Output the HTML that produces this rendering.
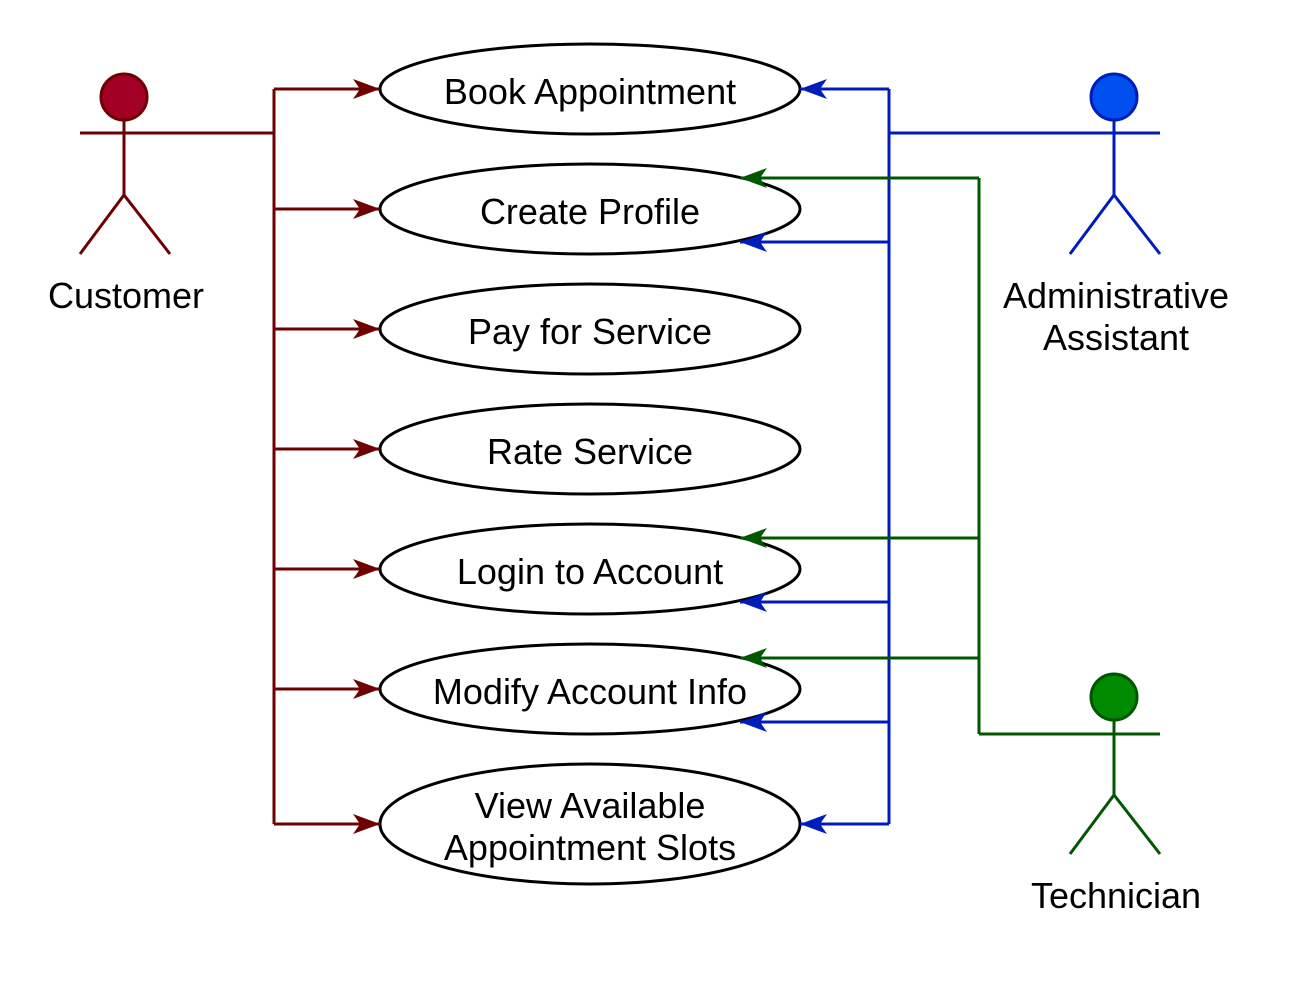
<!DOCTYPE html>
<html><head><style>body{margin:0;background:#fff}svg{display:block}text{font-family:"Liberation Sans",Arial,sans-serif;font-size:36px;text-anchor:middle}</style></head>
<body>
<svg width="1312" height="998" viewBox="0 0 1312 998">
<defs>
<marker id="r" markerWidth="28" markerHeight="22" refX="27" refY="11" orient="auto" markerUnits="userSpaceOnUse"><path d="M27,11 L0,1 L7,11 L0,21 Z" fill="#6f0000"/></marker>
<marker id="b" markerWidth="28" markerHeight="22" refX="27" refY="11" orient="auto" markerUnits="userSpaceOnUse"><path d="M27,11 L0,1 L7,11 L0,21 Z" fill="#001dbc"/></marker>
<marker id="g" markerWidth="28" markerHeight="22" refX="27" refY="11" orient="auto" markerUnits="userSpaceOnUse"><path d="M27,11 L0,1 L7,11 L0,21 Z" fill="#005700"/></marker>
</defs>
<g fill="#fff" stroke="#000" stroke-width="3">
<ellipse cx="590" cy="89" rx="210" ry="45"/>
<ellipse cx="590" cy="209" rx="210" ry="45"/>
<ellipse cx="590" cy="329" rx="210" ry="45"/>
<ellipse cx="590" cy="449" rx="210" ry="45"/>
<ellipse cx="590" cy="569" rx="210" ry="45"/>
<ellipse cx="590" cy="689" rx="210" ry="45"/>
<ellipse cx="590" cy="824" rx="210" ry="60"/>
</g>
<g fill="#000">
<text x="590" y="104">Book Appointment</text>
<text x="590" y="224">Create Profile</text>
<text x="590" y="344">Pay for Service</text>
<text x="590" y="464">Rate Service</text>
<text x="590" y="584">Login to Account</text>
<text x="590" y="704">Modify Account Info</text>
<text x="590" y="818">View Available</text>
<text x="590" y="860">Appointment Slots</text>
<text x="126" y="308">Customer</text>
<text x="1116" y="308">Administrative</text>
<text x="1116" y="350">Assistant</text>
<text x="1116" y="908">Technician</text>
</g>
<g stroke="#6f0000" stroke-width="3" fill="none">
<circle cx="124" cy="97" r="23" fill="#a20025"/>
<path d="M124,120 V195 M80,133 H170 M80,254 L124,195 L170,254"/>
<path d="M170,133 H274 M274,89 V824"/>
<path d="M274,89 H380" marker-end="url(#r)"/>
<path d="M274,209 H380" marker-end="url(#r)"/>
<path d="M274,329 H380" marker-end="url(#r)"/>
<path d="M274,449 H380" marker-end="url(#r)"/>
<path d="M274,569 H380" marker-end="url(#r)"/>
<path d="M274,689 H380" marker-end="url(#r)"/>
<path d="M274,824 H380" marker-end="url(#r)"/>
</g>
<g stroke="#001dbc" stroke-width="3" fill="none">
<circle cx="1114" cy="97" r="23" fill="#0050ef"/>
<path d="M1114,120 V195 M1070,133 H1160 M1070,254 L1114,195 L1160,254"/>
<path d="M1070,133 H889 M889,89 V824"/>
<path d="M889,89 H800" marker-end="url(#b)"/>
<path d="M889,242 H740" marker-end="url(#b)"/>
<path d="M889,602 H740" marker-end="url(#b)"/>
<path d="M889,722 H740" marker-end="url(#b)"/>
<path d="M889,824 H800" marker-end="url(#b)"/>
</g>
<g stroke="#005700" stroke-width="3" fill="none">
<circle cx="1114" cy="697" r="23" fill="#008a00"/>
<path d="M1114,720 V795 M1070,734 H1160 M1070,854 L1114,795 L1160,854"/>
<path d="M1070,734 H979 M979,178 V734"/>
<path d="M979,178 H740" marker-end="url(#g)"/>
<path d="M979,538 H740" marker-end="url(#g)"/>
<path d="M979,658 H740" marker-end="url(#g)"/>
</g>
</svg>
</body></html>
